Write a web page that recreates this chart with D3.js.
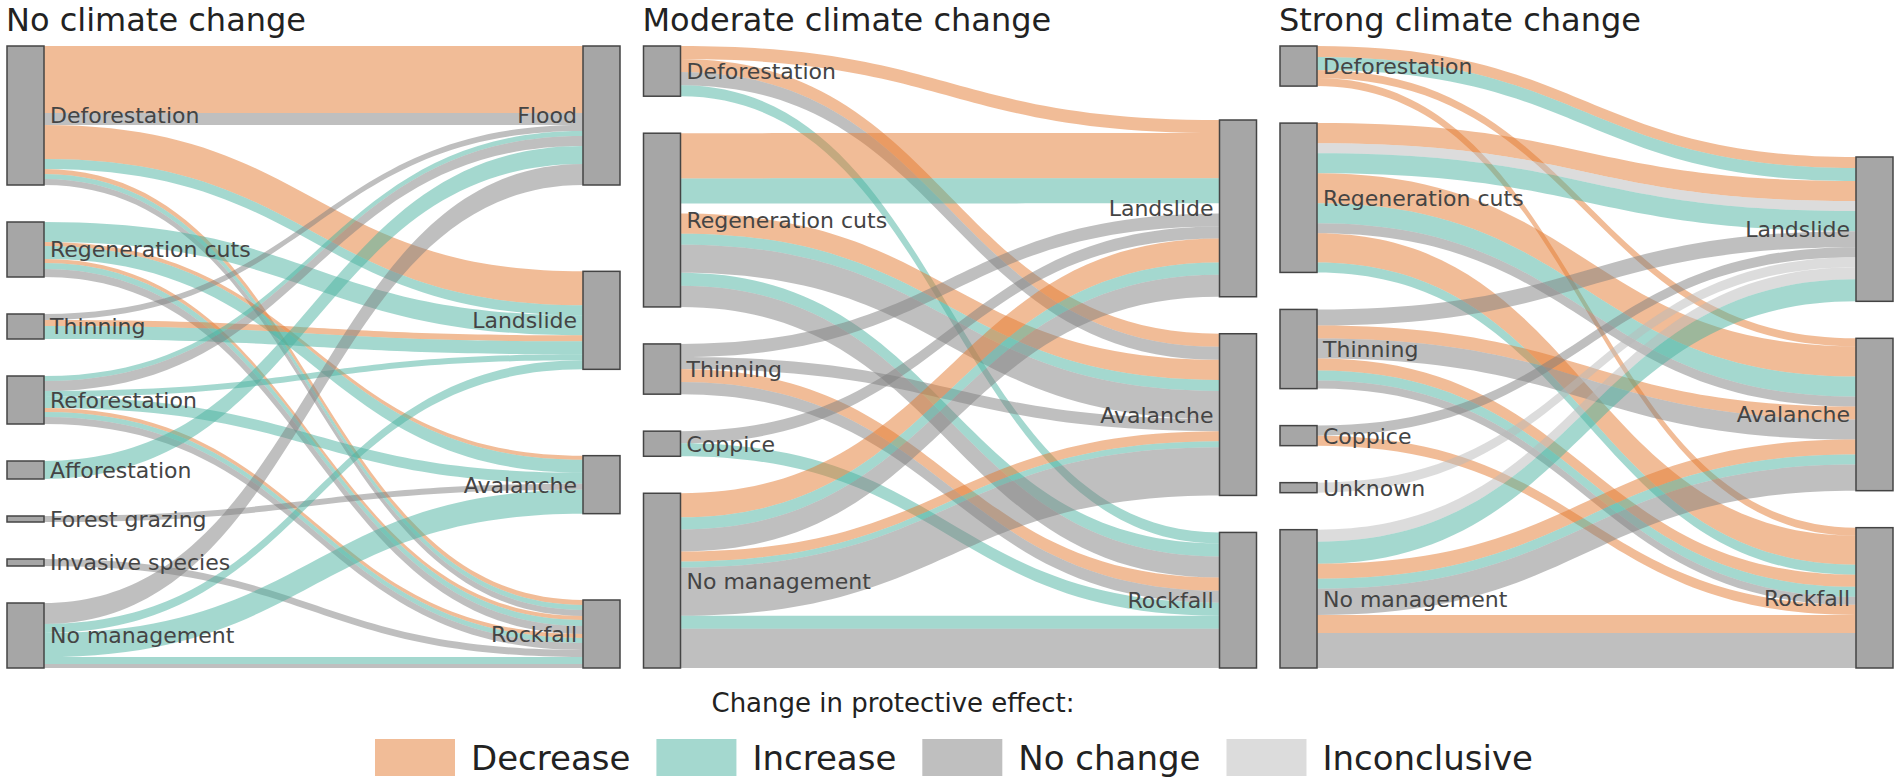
<!DOCTYPE html>
<html>
<head>
<meta charset="utf-8">
<script src="https://cdn.jsdelivr.net/npm/d3@7"></script>
<style>
  body { margin: 0; background: #fff; }
  text { font-family: "DejaVu Sans", Verdana, sans-serif; }
</style>
</head>
<body>
<svg id="chart" width="1901" height="782"></svg>
<script>
// Panel titles and legend categories
const panelTitles = ['No climate change', 'Moderate climate change', 'Strong climate change'];
const changeTypes = ['Decrease', 'Increase', 'No change', 'Inconclusive'];
const legendTitle = 'Change in protective effect:';

// No climate change
const sourcesNone = ['Deforestation', 'Regeneration cuts', 'Thinning', 'Reforestation',
  'Afforestation', 'Forest grazing', 'Invasive species', 'No management'];
const targetsNone = ['Flood', 'Landslide', 'Avalanche', 'Rockfall'];
const linksNone = [
  ['Deforestation', 'Flood', 'Decrease', 67],
  ['Deforestation', 'Flood', 'No change', 12],
  ['Deforestation', 'Landslide', 'Decrease', 34],
  ['Deforestation', 'Landslide', 'Increase', 10],
  ['Deforestation', 'Rockfall', 'Decrease', 5],
  ['Deforestation', 'Rockfall', 'Increase', 5],
  ['Deforestation', 'Rockfall', 'No change', 6],
  ['Regeneration cuts', 'Landslide', 'Increase', 20],
  ['Regeneration cuts', 'Avalanche', 'Decrease', 4],
  ['Regeneration cuts', 'Avalanche', 'Increase', 13],
  ['Regeneration cuts', 'Rockfall', 'Decrease', 4],
  ['Regeneration cuts', 'Rockfall', 'Increase', 6],
  ['Regeneration cuts', 'Rockfall', 'No change', 8],
  ['Thinning', 'Flood', 'No change', 6],
  ['Thinning', 'Landslide', 'Decrease', 6],
  ['Thinning', 'Landslide', 'Increase', 13],
  ['Reforestation', 'Flood', 'Increase', 5],
  ['Reforestation', 'Flood', 'No change', 10],
  ['Reforestation', 'Landslide', 'Increase', 6],
  ['Reforestation', 'Avalanche', 'Increase', 11],
  ['Reforestation', 'Rockfall', 'Decrease', 4],
  ['Reforestation', 'Rockfall', 'Increase', 5],
  ['Reforestation', 'Rockfall', 'No change', 7],
  ['Afforestation', 'Flood', 'Increase', 18],
  ['Forest grazing', 'Avalanche', 'No change', 6],
  ['Invasive species', 'Rockfall', 'No change', 7],
  ['No management', 'Flood', 'No change', 21],
  ['No management', 'Landslide', 'Increase', 9],
  ['No management', 'Avalanche', 'Increase', 24],
  ['No management', 'Rockfall', 'Increase', 7],
  ['No management', 'Rockfall', 'No change', 4]
];

// Moderate climate change
const sourcesModerate = ['Deforestation', 'Regeneration cuts', 'Thinning', 'Coppice', 'No management'];
const targetsModerate = ['Landslide', 'Avalanche', 'Rockfall'];
const linksModerate = [
  ['Deforestation', 'Landslide', 'Decrease', 13],
  ['Deforestation', 'Avalanche', 'Decrease', 13],
  ['Deforestation', 'Avalanche', 'No change', 13],
  ['Deforestation', 'Rockfall', 'Increase', 11],
  ['Regeneration cuts', 'Landslide', 'Decrease', 45],
  ['Regeneration cuts', 'Landslide', 'Increase', 25],
  ['Regeneration cuts', 'Landslide', 'Unclassified', 10],
  ['Regeneration cuts', 'Avalanche', 'Decrease', 20],
  ['Regeneration cuts', 'Avalanche', 'Increase', 11],
  ['Regeneration cuts', 'Avalanche', 'No change', 28],
  ['Regeneration cuts', 'Rockfall', 'Increase', 13],
  ['Regeneration cuts', 'Rockfall', 'No change', 21],
  ['Thinning', 'Landslide', 'No change', 13],
  ['Thinning', 'Avalanche', 'No change', 12],
  ['Thinning', 'Rockfall', 'Decrease', 13],
  ['Thinning', 'Rockfall', 'No change', 12],
  ['Coppice', 'Landslide', 'No change', 12],
  ['Coppice', 'Rockfall', 'Increase', 13],
  ['No management', 'Landslide', 'Decrease', 24],
  ['No management', 'Landslide', 'Increase', 12],
  ['No management', 'Landslide', 'No change', 22],
  ['No management', 'Avalanche', 'Decrease', 10],
  ['No management', 'Avalanche', 'Increase', 6],
  ['No management', 'Avalanche', 'No change', 48],
  ['No management', 'Rockfall', 'Increase', 13],
  ['No management', 'Rockfall', 'No change', 39]
];

// Strong climate change
const sourcesStrong = ['Deforestation', 'Regeneration cuts', 'Thinning', 'Coppice', 'Unknown', 'No management'];
const targetsStrong = ['Landslide', 'Avalanche', 'Rockfall'];
const linksStrong = [
  ['Deforestation', 'Landslide', 'Decrease', 11],
  ['Deforestation', 'Landslide', 'Increase', 13],
  ['Deforestation', 'Avalanche', 'Decrease', 8],
  ['Deforestation', 'Rockfall', 'Decrease', 8],
  ['Regeneration cuts', 'Landslide', 'Decrease', 20],
  ['Regeneration cuts', 'Landslide', 'Inconclusive', 10],
  ['Regeneration cuts', 'Landslide', 'Increase', 20],
  ['Regeneration cuts', 'Avalanche', 'Decrease', 30],
  ['Regeneration cuts', 'Avalanche', 'Increase', 20],
  ['Regeneration cuts', 'Avalanche', 'No change', 10],
  ['Regeneration cuts', 'Rockfall', 'Decrease', 29],
  ['Regeneration cuts', 'Rockfall', 'Increase', 10],
  ['Thinning', 'Landslide', 'No change', 16],
  ['Thinning', 'Avalanche', 'Decrease', 13],
  ['Thinning', 'Avalanche', 'No change', 20],
  ['Thinning', 'Rockfall', 'Decrease', 12],
  ['Thinning', 'Rockfall', 'Increase', 10],
  ['Thinning', 'Rockfall', 'No change', 8],
  ['Coppice', 'Landslide', 'No change', 10],
  ['Coppice', 'Rockfall', 'Decrease', 10],
  ['Unknown', 'Landslide', 'Inconclusive', 10],
  ['No management', 'Landslide', 'Inconclusive', 12],
  ['No management', 'Landslide', 'Increase', 22],
  ['No management', 'Avalanche', 'Decrease', 15],
  ['No management', 'Avalanche', 'Increase', 10],
  ['No management', 'Avalanche', 'No change', 26],
  ['No management', 'Rockfall', 'Decrease', 18],
  ['No management', 'Rockfall', 'No change', 35]
];

const panels = [
  { sources: sourcesNone, targets: targetsNone, links: linksNone, arrange: 'justify' },
  { sources: sourcesModerate, targets: targetsModerate, links: linksModerate, arrange: 'relax' },
  { sources: sourcesStrong, targets: targetsStrong, links: linksStrong, arrange: 'relax' }
];

// link colours (drawn half transparent); anything outside the legend is left blank
const color = d3.scaleOrdinal()
  .domain(changeTypes)
  .range(['rgb(227,121,47)', 'rgb(73,177,159)', 'rgb(127,127,127)', 'rgb(185,185,185)'])
  .unknown('none');
const linkOpacity = 0.5;

const svg = d3.select('#chart');
const y0 = 46, y1 = 668, pad = 37, nodeW = 37, panelW = 613;
const panelX = d3.scaleLinear().domain([0, 1]).range([7, 643.5]);

panels.forEach((p, pi) => {
  const left = panelX(pi);
  const colX = d3.scaleLinear().domain([0, 1]).range([left, left + panelW - nodeW]);

  // build nodes
  const makeNode = (name, col, i) => ({ name, col, index: i, value: 0, out: [], inn: [] });
  const src = p.sources.map((n, i) => makeNode(n, 0, i));
  const tgt = p.targets.map((n, i) => makeNode(n, 1, i));
  const links = p.links.map((l, i) => {
    const s = src.find(d => d.name === l[0]);
    const t = tgt.find(d => d.name === l[1]);
    const link = { source: s, target: t, type: l[2], value: l[3], index: i };
    s.out.push(link); t.inn.push(link);
    s.value += l[3]; t.value += l[3];
    return link;
  });
  const columns = [src, tgt];

  // value -> pixel scale, shared by all nodes of the panel
  const ky = d3.min(columns, c => (y1 - y0 - (c.length - 1) * pad) / d3.sum(c, d => d.value));
  const total = d3.sum(src, d => d.value);
  const h = d3.scaleLinear().domain([0, total]).range([0, total * ky]);

  // stacked, spread over full height
  const stackJustify = nodes => {
    const free = (y1 - y0) - d3.sum(nodes, d => h(d.value));
    const gap = nodes.length > 1 ? free / (nodes.length - 1) : 0;
    let y = y0;
    nodes.forEach(d => { d.y0 = y; d.y1 = y + h(d.value); y = d.y1 + gap; });
  };
  stackJustify(src);

  if (p.arrange === 'justify') {
    stackJustify(tgt);
  } else {
    // move each target to the weighted centre of its sources, then resolve collisions
    tgt.forEach(t => {
      const c = d3.sum(t.inn, l => l.value * (l.source.y0 + l.source.y1) / 2) / t.value;
      t.y0 = c - h(t.value) / 2; t.y1 = t.y0 + h(t.value);
    });
    let y = y0;
    tgt.forEach(t => {
      const dy = y - t.y0;
      if (dy > 0) { t.y0 += dy; t.y1 += dy; }
      y = t.y1 + pad;
    });
    const over = y - pad - y1;
    if (over > 0) {
      const last = tgt[tgt.length - 1];
      last.y0 -= over; last.y1 -= over;
      y = last.y0;
      for (let i = tgt.length - 2; i >= 0; --i) {
        const t = tgt[i];
        const dy = t.y1 + pad - y;
        if (dy > 0) { t.y0 -= dy; t.y1 -= dy; }
        y = t.y0;
      }
    }
  }

  // link positions on each node
  src.forEach(s => {
    s.out.sort((a, b) => (a.target.y0 - b.target.y0) || (a.index - b.index));
    let y = s.y0;
    s.out.forEach(l => { l.sy0 = y; y += h(l.value); l.sy1 = y; });
  });
  tgt.forEach(t => {
    t.inn.sort((a, b) => (a.source.y0 - b.source.y0) || (a.index - b.index));
    let y = t.y0;
    t.inn.forEach(l => { l.ty0 = y; y += h(l.value); l.ty1 = y; });
  });

  const x0 = colX(0) + nodeW, x1 = colX(1), xm = (x0 + x1) / 2;
  const band = l => {
    const path = d3.path();
    path.moveTo(x0, l.sy0);
    path.bezierCurveTo(xm, l.sy0, xm, l.ty0, x1, l.ty0);
    path.lineTo(x1, l.ty1);
    path.bezierCurveTo(xm, l.ty1, xm, l.sy1, x0, l.sy1);
    path.closePath();
    return path.toString();
  };

  const g = svg.append('g').attr('class', 'panel');

  g.append('g')
    .selectAll('path')
    .data(links)
    .join('path')
    .attr('d', band)
    .attr('fill', d => color(d.type))
    .attr('fill-opacity', linkOpacity);

  const allNodes = src.concat(tgt);
  g.append('g')
    .selectAll('rect')
    .data(allNodes)
    .join('rect')
    .attr('x', d => colX(d.col))
    .attr('y', d => d.y0)
    .attr('width', nodeW)
    .attr('height', d => Math.max(1, d.y1 - d.y0))
    .attr('fill', '#a6a6a6')
    .attr('stroke', '#444')
    .attr('stroke-width', 1.5);

  g.append('g')
    .selectAll('text')
    .data(allNodes)
    .join('text')
    .attr('x', d => d.col === 0 ? colX(0) + nodeW + 6 : colX(1) - 6)
    .attr('y', d => (d.y0 + d.y1) / 2)
    .attr('dy', '0.36em')
    .attr('text-anchor', d => d.col === 0 ? 'start' : 'end')
    .attr('font-size', 22)
    .attr('fill', '#444')
    .text(d => d.name);

  g.append('text')
    .attr('x', left - 1)
    .attr('y', 31)
    .attr('font-size', 32)
    .attr('fill', '#222')
    .text(panelTitles[pi]);
});

// legend
svg.append('text')
  .attr('x', 893)
  .attr('y', 712)
  .attr('text-anchor', 'middle')
  .attr('font-size', 26)
  .attr('fill', '#222')
  .text(legendTitle);

const legend = svg.append('g');
let lx = 375;
changeTypes.forEach(t => {
  legend.append('rect')
    .attr('x', lx).attr('y', 739)
    .attr('width', 80).attr('height', 37)
    .attr('fill', color(t))
    .attr('fill-opacity', linkOpacity);
  const txt = legend.append('text')
    .attr('x', lx + 96).attr('y', 770)
    .attr('font-size', 34)
    .attr('fill', '#222')
    .text(t);
  lx += 96 + txt.node().getComputedTextLength() + 26;
});
</script>
</body>
</html>
